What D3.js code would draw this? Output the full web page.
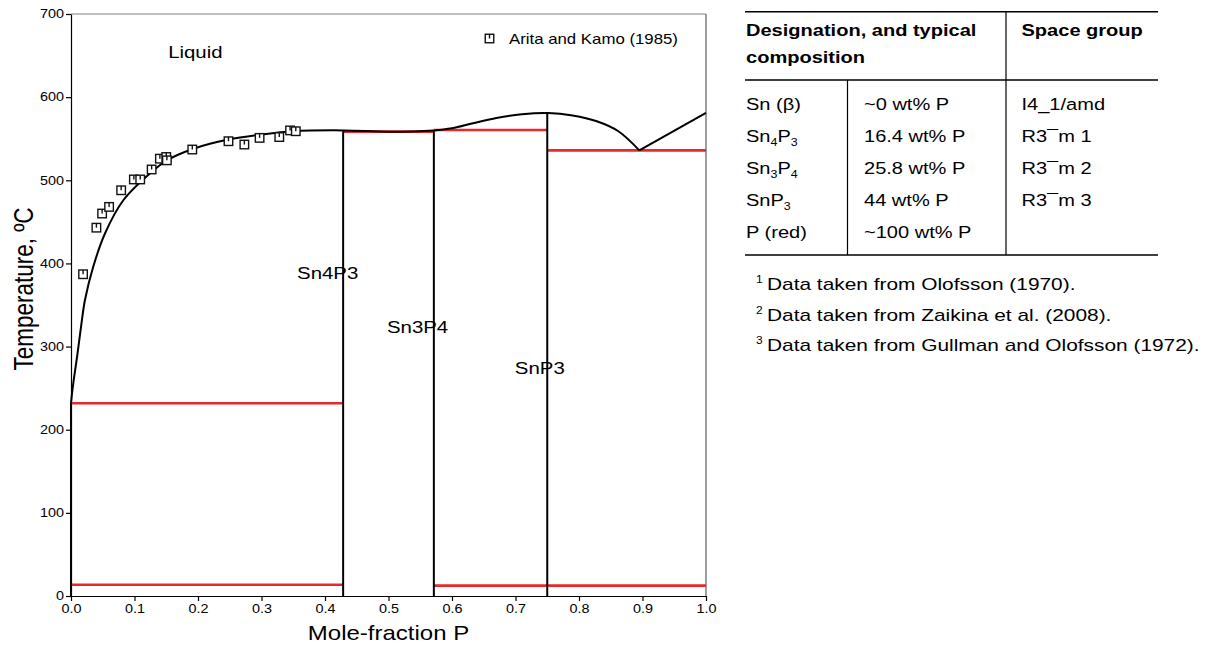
<!DOCTYPE html>
<html>
<head>
<meta charset="utf-8">
<script src="https://cdn.jsdelivr.net/npm/d3@7"></script>
<style>
  html, body { margin: 0; padding: 0; background: #fff; }
  svg { display: block; }
  text { font-family: "Liberation Sans", Arial, sans-serif; fill: #000; }
</style>
</head>
<body>
<svg id="chart" width="1206" height="653"></svg>
<script>
// ---------------- data ----------------
const xTicks = [0, 0.1, 0.2, 0.3, 0.4, 0.5, 0.6, 0.7, 0.8, 0.9, 1.0];
const yTicks = [0, 100, 200, 300, 400, 500, 600, 700];

// Arita and Kamo (1985) measured liquidus points
const aritaX = [0.019, 0.040, 0.049, 0.060, 0.079, 0.099, 0.109, 0.127, 0.140, 0.150, 0.151, 0.191, 0.248, 0.273, 0.297, 0.328, 0.345, 0.354];
const aritaT = [387, 443, 460, 468, 488, 501, 501, 513, 526, 528, 524, 537, 547, 543, 551, 552, 560, 559];

// liquidus curve (left branch up to the eutectic near 0.895, right branch to P)
const liquidusLeftX = [0, 0.002, 0.0047, 0.01, 0.016, 0.022, 0.035, 0.0535, 0.0824, 0.127, 0.151, 0.193, 0.248, 0.30, 0.35, 0.43, 0.50, 0.571, 0.60, 0.635, 0.67, 0.71, 0.751, 0.79, 0.828, 0.862, 0.895];
const liquidusLeftT = [232, 246, 262, 290, 325, 356, 396, 436, 476, 510, 524, 538, 549, 555, 559, 560, 558.5, 560, 562.5, 569, 575, 579.5, 581, 578, 571, 559, 536];
const liquidusRightX = [0.895, 1.0];
const liquidusRightT = [536, 581];

// vertical compound / element lines
const phaseLineX = [0, 3 / 7, 4 / 7, 0.75];
const phaseLineTop = [232, 559, 560.5, 581];

// red horizontal isotherms
const isoStart = [0, 0, 3 / 7, 4 / 7, 0.75, 4 / 7];
const isoEnd = [3 / 7, 3 / 7, 4 / 7, 0.75, 1.0, 1.0];
const isoT = [231.9, 13.5, 558.5, 560.5, 536, 12.5];

// phase labels
const phaseNames = ["Liquid", "Sn4P3", "Sn3P4", "SnP3"];
const phaseNameX = [0.153, 0.356, 0.4976, 0.699];
const phaseNameT = [647, 381, 316, 267];

const legendLabel = "Arita and Kamo (1985)";

// table
const tableHeader1 = ["Designation, and typical", "composition"];
const tableHeader2 = "Space group";
const designations = [
  [["Sn (β)", 0]],
  [["Sn", 0], ["4", 1], ["P", 0], ["3", 1]],
  [["Sn", 0], ["3", 1], ["P", 0], ["4", 1]],
  [["SnP", 0], ["3", 1]],
  [["P (red)", 0]]
];
const compositions = ["~0 wt% P", "16.4 wt% P", "25.8 wt% P", "44 wt% P", "~100 wt% P"];
const spaceGroups = ["I4_1/amd", "R3¯m 1", "R3¯m 2", "R3¯m 3", ""];
const footnoteMarks = ["1", "2", "3"];
const footnotes = ["Data taken from Olofsson (1970).", "Data taken from Zaikina et al. (2008).", "Data taken from Gullman and Olofsson (1972)."];

// ---------------- drawing ----------------
const SX = 1.2; // horizontal stretch of glyphs seen in the reference
const RED = "#e8292b";
const svg = d3.select("#chart");

const x = d3.scaleLinear().domain([0, 1]).range([71, 706]);
const y = d3.scaleLinear().domain([0, 700]).range([596, 14]);

function stext(parent, px, py, str, size, opts = {}) {
  const t = parent.append("text")
    .attr("transform", `translate(${px},${py}) scale(${SX},1)` + (opts.rotate ? ` rotate(${opts.rotate})` : ""))
    .attr("font-size", size)
    .attr("text-anchor", opts.anchor || "start")
    .attr("font-weight", opts.bold ? "bold" : "normal")
    .text(str);
  return t;
}

// frame (top & right)
svg.append("line").attr("x1", x(0)).attr("x2", x(1)).attr("y1", y(700)).attr("y2", y(700))
  .attr("stroke", "#808080").attr("stroke-width", 1);
svg.append("line").attr("x1", x(1)).attr("x2", x(1)).attr("y1", y(700)).attr("y2", y(0))
  .attr("stroke", "#606060").attr("stroke-width", 1.2);

// axes
const xAxis = d3.axisBottom(x).tickValues(xTicks).tickFormat(d3.format(".1f")).tickSize(5).tickSizeOuter(0);
const gx = svg.append("g").attr("transform", `translate(0,${y(0)})`).call(xAxis);
gx.select(".domain").attr("stroke", "#000").attr("stroke-width", 1.2);
gx.selectAll(".tick line").attr("stroke", "#000").attr("stroke-width", 1.2);
gx.selectAll(".tick text").attr("font-size", 12).attr("font-family", "Liberation Sans, Arial, sans-serif")
  .attr("y", 8).attr("transform", `scale(${SX},1)`).attr("fill", "#000");

const yAxis = d3.axisLeft(y).tickValues(yTicks).tickFormat(d3.format("d")).tickSize(5).tickSizeOuter(0);
const gy = svg.append("g").attr("transform", `translate(${x(0)},0)`).call(yAxis);
gy.select(".domain").attr("stroke", "#000").attr("stroke-width", 1.2);
gy.selectAll(".tick line").attr("stroke", "#000").attr("stroke-width", 1.2);
gy.selectAll(".tick text").attr("font-size", 12).attr("font-family", "Liberation Sans, Arial, sans-serif")
  .attr("x", -7 / SX).attr("transform", `scale(${SX},1)`).attr("fill", "#000");

// axis titles
stext(svg, 388.5, 640, "Mole-fraction P", 20, { anchor: "middle" });
stext(svg, 33, 289, "Temperature, ºC", 22.5, { anchor: "middle", rotate: -90 });

// red isotherms
svg.append("g").selectAll("line").data(isoT).join("line")
  .attr("x1", (d, i) => x(isoStart[i])).attr("x2", (d, i) => x(isoEnd[i]))
  .attr("y1", d => y(d)).attr("y2", d => y(d))
  .attr("stroke", RED).attr("stroke-width", 2.6);

// black vertical phase lines
svg.append("g").selectAll("line").data(phaseLineX).join("line")
  .attr("x1", d => x(d)).attr("x2", d => x(d))
  .attr("y1", y(0)).attr("y2", (d, i) => y(phaseLineTop[i]))
  .attr("stroke", "#000").attr("stroke-width", 2);

// liquidus
const line = d3.line().x(d => x(d[0])).y(d => y(d[1]));
svg.append("path").datum(d3.zip(liquidusLeftX, liquidusLeftT))
  .attr("d", line.curve(d3.curveCatmullRom.alpha(0.5)))
  .attr("fill", "none").attr("stroke", "#000").attr("stroke-width", 2);
svg.append("path").datum(d3.zip(liquidusRightX, liquidusRightT))
  .attr("d", d3.line().x(d => x(d[0])).y(d => y(d[1])))
  .attr("fill", "none").attr("stroke", "#000").attr("stroke-width", 2);

// markers
function marker(g, cx, cy) {
  const s = 8.5;
  g.append("rect").attr("x", cx - s / 2).attr("y", cy - s / 2).attr("width", s).attr("height", s)
    .attr("fill", "#fff").attr("stroke", "#111").attr("stroke-width", 1.4);
  g.append("line").attr("x1", cx).attr("x2", cx).attr("y1", cy - s / 2).attr("y2", cy)
    .attr("stroke", "#111").attr("stroke-width", 1.4);
}
const gm = svg.append("g");
aritaX.forEach((v, i) => marker(gm, x(v), y(aritaT[i])));

// phase labels
phaseNames.forEach((n, i) => stext(svg, x(phaseNameX[i]), y(phaseNameT[i]), n, 17));

// legend
marker(svg.append("g"), 489.5, 38.5);
stext(svg, 509, 43.5, legendLabel, 14);

// ---------------- table ----------------
const tb = svg.append("g");
const TL = 745, TR = 1158;
[11.7, 80, 255].forEach(yy => {
  tb.append("line").attr("x1", TL).attr("x2", TR).attr("y1", yy).attr("y2", yy)
    .attr("stroke", "#000").attr("stroke-width", 1.4);
});
tb.append("line").attr("x1", 1006).attr("x2", 1006).attr("y1", 11.7).attr("y2", 255).attr("stroke", "#000").attr("stroke-width", 1.2);
tb.append("line").attr("x1", 847.5).attr("x2", 847.5).attr("y1", 80).attr("y2", 255).attr("stroke", "#000").attr("stroke-width", 1.2);

const TFS = 16.7;
stext(tb, 746, 36, tableHeader1[0], TFS, { bold: true });
stext(tb, 746, 63, tableHeader1[1], TFS, { bold: true });
stext(tb, 1021.5, 36, tableHeader2, TFS, { bold: true });

const rowBase = [109.5, 141.8, 174, 206.2, 238.4];
designations.forEach((parts, i) => {
  const t = stext(tb, 746, rowBase[i], "", TFS);
  let sub = false;
  parts.forEach(([s, isSub]) => {
    const ts = t.append("tspan").text(s);
    if (isSub && !sub) { ts.attr("font-size", TFS * 0.62).attr("dy", 4); sub = true; }
    else if (isSub && sub) { ts.attr("font-size", TFS * 0.62); }
    else if (!isSub && sub) { ts.attr("dy", -4); sub = false; }
  });
});
compositions.forEach((c, i) => stext(tb, 864, rowBase[i], c, TFS));
spaceGroups.forEach((c, i) => { if (c) stext(tb, 1021.5, rowBase[i], c, TFS); });

// footnotes
const fnBase = [290, 321, 351];
footnotes.forEach((f, i) => {
  stext(svg, 756, fnBase[i] - 7, footnoteMarks[i], 10);
  stext(svg, 767, fnBase[i], f, 17.4);
});
</script>
</body>
</html>
